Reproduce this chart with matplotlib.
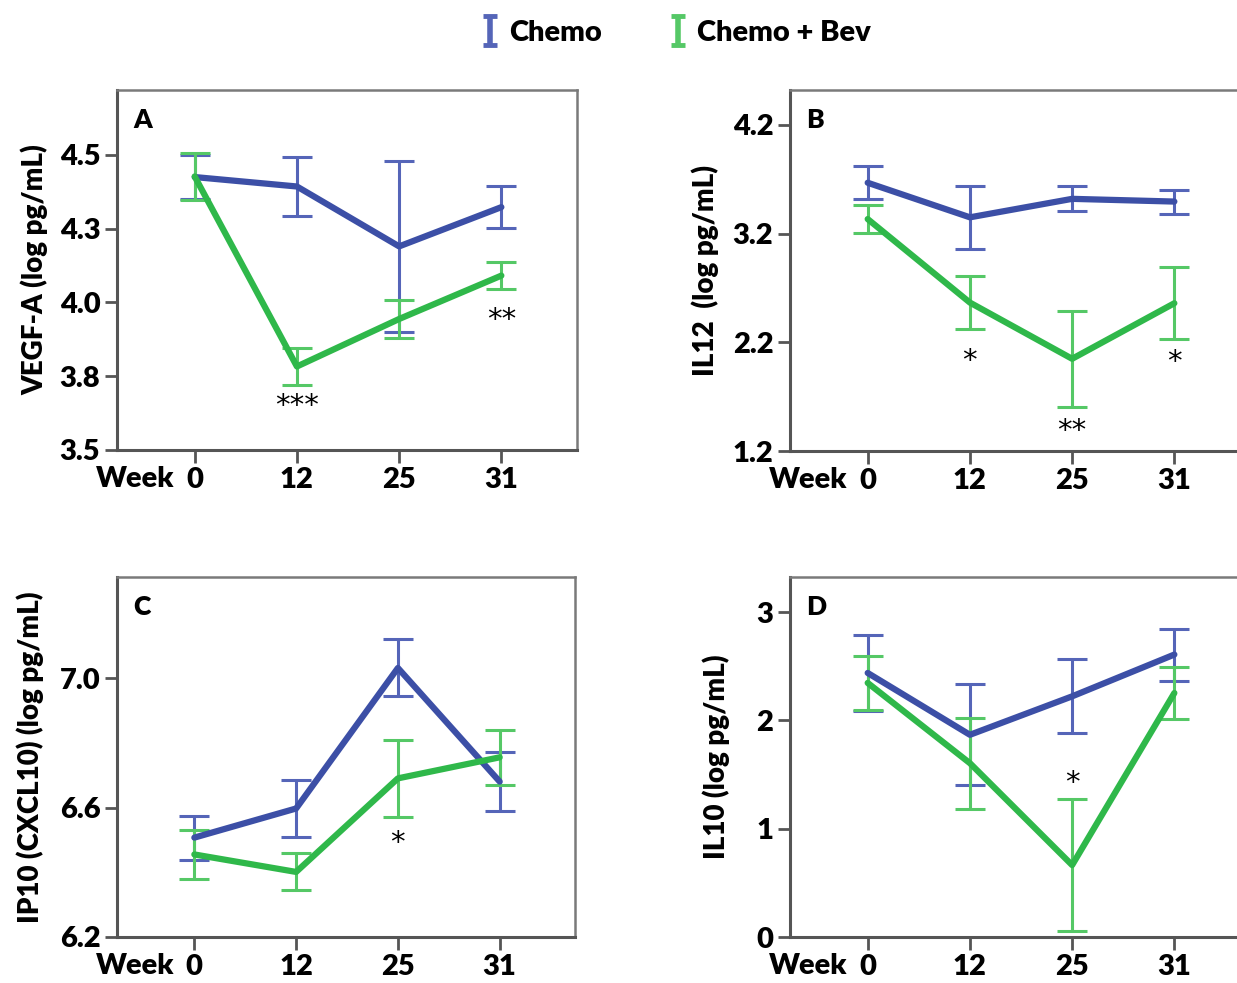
import numpy as np
import matplotlib
matplotlib.use("Agg")
import matplotlib.pyplot as plt

plt.rcParams['font.family'] = ['Lato', 'DejaVu Sans']

# ---- data ----
weeks = ['0', '12', '25', '31']

vegf_chemo = [4.425, 4.393, 4.19, 4.323]
vegf_chemo_err = [0.075, 0.10, 0.29, 0.07]
vegf_bev = [4.427, 3.783, 3.944, 4.091]
vegf_bev_err = [0.079, 0.062, 0.063, 0.046]

il12_chemo = [3.667, 3.349, 3.519, 3.494]
il12_chemo_err = [0.15, 0.29, 0.115, 0.11]
il12_bev = [3.333, 2.565, 2.048, 2.559]
il12_bev_err = [0.13, 0.245, 0.44, 0.33]

ip10_chemo = [6.507, 6.597, 7.031, 6.68]
ip10_chemo_err = [0.068, 0.088, 0.088, 0.092]
ip10_bev = [6.455, 6.401, 6.69, 6.755]
ip10_bev_err = [0.075, 0.057, 0.118, 0.085]

il10_chemo = [2.438, 1.867, 2.222, 2.608]
il10_chemo_err = [0.35, 0.465, 0.343, 0.24]
il10_bev = [2.346, 1.605, 0.664, 2.253]
il10_bev_err = [0.25, 0.42, 0.61, 0.24]

vegf_ticks = [3.5, 3.75, 4.0, 4.25, 4.5]
vegf_ticklabels = ['3.5', '3.8', '4.0', '4.3', '4.5']
il12_ticks = [1.2, 2.2, 3.2, 4.2]
il12_ticklabels = ['1.2', '2.2', '3.2', '4.2']
ip10_ticks = [6.2, 6.6, 7.0]
ip10_ticklabels = ['6.2', '6.6', '7.0']
il10_ticks = [0, 1, 2, 3]
il10_ticklabels = ['0', '1', '2', '3']

# significance marks: (week index, y, text)
vegf_stars = [(1, 3.65, '***'), (3, 3.94, '**')]
il12_stars = [(1, 2.03, '*'), (2, 1.38, '**'), (3, 2.02, '*')]
ip10_stars = [(2, 6.49, '*')]
il10_stars = [(2, 1.42, '*')]

BLUE = '#3c4fa6'
BLUE_EB = '#5565b8'
GREEN = '#2fb84a'
GREEN_EB = '#55c866'
SPINE = '#555555'
WEIGHT = 'heavy'

fig = plt.figure(figsize=(12.37, 9.83), dpi=100)
W, H = 1237, 983


def add_panel(left, top, bottom, width=460):
    return fig.add_axes([left / W, 1 - bottom / H, width / W, (bottom - top) / H])


def panel(ax, chemo, chemo_err, bev, bev_err, ylim, ticks, ticklabels,
          ylabel, letter, stars, ylab_x):
    x = np.arange(len(weeks))
    for y, e, c in ((chemo, chemo_err, BLUE_EB), (bev, bev_err, GREEN_EB)):
        ax.errorbar(x, y, yerr=e, fmt='none', ecolor=c, elinewidth=2.2,
                    capsize=11, capthick=2.2, zorder=2)
    ax.plot(x, chemo, color=BLUE, lw=4.5, zorder=3, solid_capstyle='round')
    ax.plot(x, bev, color=GREEN, lw=4.5, zorder=4, solid_capstyle='round')

    ax.set_xlim(-0.76, 3.74)
    ax.set_ylim(*ylim)
    ax.set_xticks(x)
    ax.set_xticklabels(weeks)
    ax.set_yticks(ticks)
    ax.set_yticklabels(ticklabels)
    ax.tick_params(axis='both', length=9, width=2, color=SPINE, pad=3,
                   labelsize=21)
    for lab in ax.get_xticklabels() + ax.get_yticklabels():
        lab.set_fontweight(WEIGHT)
    for s in ax.spines.values():
        s.set_color('#7a7a7a')
        s.set_linewidth(1.8)
    ax.spines['left'].set_color(SPINE)
    ax.spines['bottom'].set_color(SPINE)
    ax.spines['left'].set_linewidth(2.2)
    ax.spines['bottom'].set_linewidth(2.2)

    ax.set_ylabel(ylabel, fontsize=20, fontweight=WEIGHT)
    ax.yaxis.set_label_coords(ylab_x, 0.5)

    ax.annotate('Week', xy=(-0.2, 0), xycoords=('data', 'axes fraction'),
                xytext=(0, -11.5), textcoords='offset points', ha='right',
                va='top', fontsize=21, fontweight=WEIGHT)
    ax.text(0.035, 0.95, letter, transform=ax.transAxes, fontsize=19,
            fontweight=WEIGHT, va='top', ha='left')
    for i, yv, t in stars:
        ax.text(i, yv, t, fontsize=21, ha='center', va='center',
                family='DejaVu Sans')


axA = add_panel(117, 90, 450)
panel(axA, vegf_chemo, vegf_chemo_err, vegf_bev, vegf_bev_err, (3.5, 4.72),
      vegf_ticks, vegf_ticklabels, 'VEGF-A (log pg/mL)', 'A', vegf_stars, -0.15)

axB = add_panel(790, 90, 451)
panel(axB, il12_chemo, il12_chemo_err, il12_bev, il12_bev_err, (1.2, 4.52),
      il12_ticks, il12_ticklabels, 'IL12  (log pg/mL)', 'B', il12_stars, -0.155)

axC = add_panel(117, 577, 937, width=458)
panel(axC, ip10_chemo, ip10_chemo_err, ip10_bev, ip10_bev_err, (6.2, 7.312),
      ip10_ticks, ip10_ticklabels, 'IP10 (CXCL10) (log pg/mL)', 'C',
      ip10_stars, -0.16)

axD = add_panel(790, 577, 937)
panel(axD, il10_chemo, il10_chemo_err, il10_bev, il10_bev_err, (0, 3.324),
      il10_ticks, il10_ticklabels, 'IL10 (log pg/mL)', 'D', il10_stars, -0.13)

# legend with error-bar glyphs only
h1 = axA.errorbar([np.nan], [np.nan], yerr=[1], fmt='none', ecolor=BLUE_EB,
                  elinewidth=4, capsize=5, capthick=3.5)
h2 = axA.errorbar([np.nan], [np.nan], yerr=[1], fmt='none', ecolor=GREEN_EB,
                  elinewidth=4, capsize=5, capthick=3.5)
fig.legend([h1, h2], ['Chemo', 'Chemo + Bev'], loc='center',
           bbox_to_anchor=(676 / W, 1 - 33 / H), ncol=2, frameon=False,
           prop={'size': 21, 'weight': WEIGHT}, handlelength=0.6,
           handletextpad=0.35, columnspacing=2.3)

fig.savefig('out.png', dpi=100)
